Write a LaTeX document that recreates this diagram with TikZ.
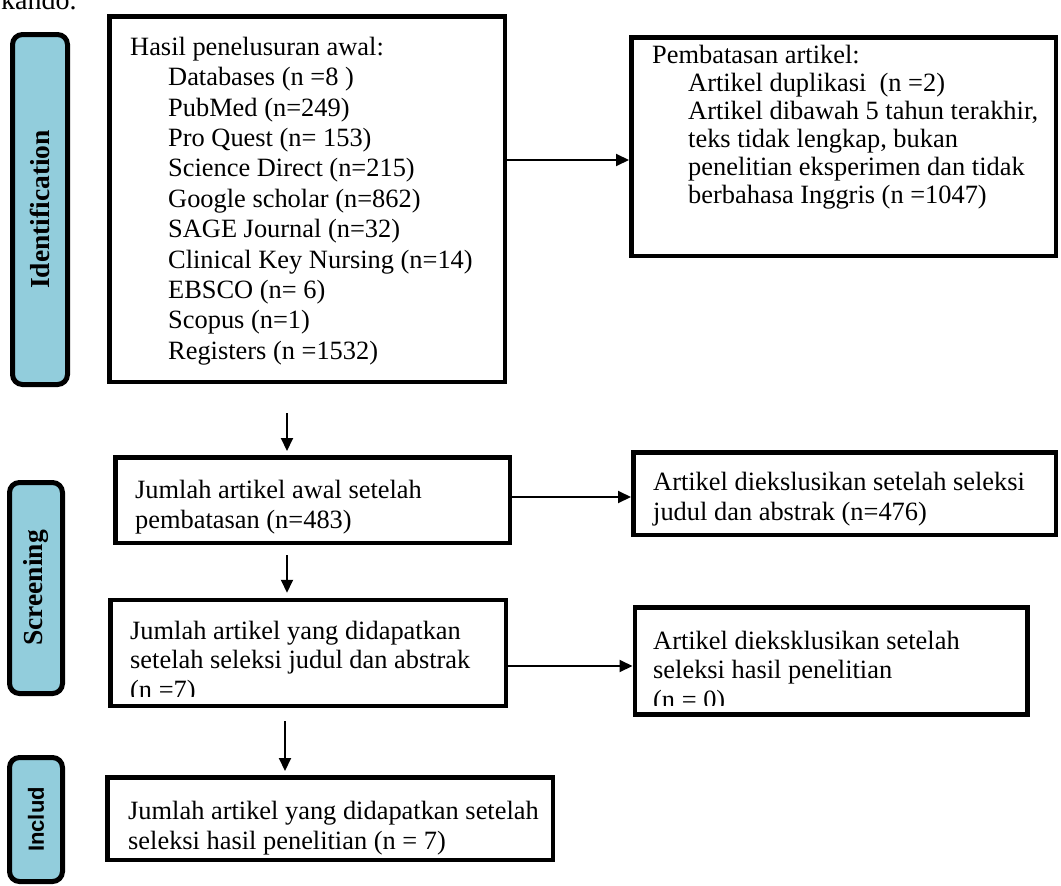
\documentclass[tikz,border=0pt]{standalone}
\usepackage{fontspec}
\setmainfont{Liberation Serif}
\newfontfamily\tabsans{Liberation Sans}
\usetikzlibrary{arrows.meta}
\definecolor{tabblue}{HTML}{92CDDC}
\begin{document}
\begin{tikzpicture}[x=1pt,y=-1pt,
  tabbox/.style={draw=black, line width=5pt, fill=tabblue, rounded corners=10pt, inner sep=0pt, rotate=90},
  flowbox/.style={draw=black, line width=4.5pt, fill=white, inner sep=0pt},
  txt/.style={anchor=north west, inner sep=0pt, align=left, font=\fontsize{26.4}{30.4}\selectfont},
  tablabel/.style={font=\bfseries\fontsize{27.5}{30}\selectfont},
  arr/.style={line width=2pt, -{Triangle[length=13pt,width=12pt]}}
]
\useasboundingbox (0,0) rectangle (1061,886);

% fragment of page text above the figure
\node[anchor=base west, inner sep=0pt, font=\fontsize{28}{32}\selectfont] (kando) at (1,9.5) {kando.};

% phase tabs
\node[tabbox, tablabel, minimum width=350pt, minimum height=55pt] (t1) at (40,209.5) {Identification};
\node[tabbox, tablabel, minimum width=211pt, minimum height=53pt] (t2) at (36,588) {Screening};
\node[tabbox, font=\tabsans\bfseries\fontsize{22}{24}\selectfont, minimum width=124pt, minimum height=53pt] (t3) at (36,819.5) {Includ};

% boxes
\node[flowbox, minimum width=395.5pt, minimum height=365.5pt] (b1) at (307,199) {};
\node[flowbox, minimum width=424.5pt, minimum height=218.5pt] (b2) at (843.5,146.5) {};
\node[flowbox, minimum width=394.5pt, minimum height=85.5pt] (b3) at (312.5,500) {};
\node[flowbox, minimum width=422.5pt, minimum height=82.5pt] (b4) at (844.5,493.5) {};
\node[flowbox, minimum width=395.5pt, minimum height=106pt] (b5) at (308,653) {};
\node[flowbox, minimum width=392.5pt, minimum height=107pt] (b6) at (831,661) {};
\node[flowbox, minimum width=445.5pt, minimum height=82.5pt] (b7) at (330,818.5) {};

% texts
\node[txt] (x1) at (130,35) {\rule{0pt}{20pt}Hasil penelusuran awal:\\
\hspace*{38pt}Databases (n =8 )\\
\hspace*{38pt}PubMed (n=249)\\
\hspace*{38pt}Pro Quest (n= 153)\\
\hspace*{38pt}Science Direct (n=215)\\
\hspace*{38pt}Google scholar (n=862)\\
\hspace*{38pt}SAGE Journal (n=32)\\
\hspace*{38pt}Clinical Key Nursing (n=14)\\
\hspace*{38pt}EBSCO (n= 6)\\
\hspace*{38pt}Scopus (n=1)\\
\hspace*{38pt}Registers (n =1532)};

\node[txt, font=\fontsize{26.4}{28}\selectfont] (x2) at (652,43) {\rule{0pt}{20pt}Pembatasan artikel:\\
\hspace*{36pt}Artikel duplikasi~ (n =2)\\
\hspace*{36pt}Artikel dibawah 5 tahun terakhir,\\
\hspace*{36pt}teks tidak lengkap, bukan\\
\hspace*{36pt}penelitian eksperimen dan tidak\\
\hspace*{36pt}berbahasa Inggris (n =1047)};

\node[txt] (x3) at (135,478) {\rule{0pt}{20pt}Jumlah artikel awal setelah\\pembatasan (n=483)};
\node[txt] (x4) at (653,470) {\rule{0pt}{20pt}Artikel diekslusikan setelah seleksi\\judul dan abstrak (n=476)};

\begin{scope}
\clip (112,602) rectangle (504,696);
\node[txt, font=\fontsize{26.4}{29.5}\selectfont] (x5) at (130,619) {\rule{0pt}{20pt}Jumlah artikel yang didapatkan\\setelah seleksi judul dan abstrak\\(n =7)};
\end{scope}
\begin{scope}
\clip (637,610) rectangle (1026,705);
\node[txt, font=\fontsize{26.4}{29.5}\selectfont] (x6) at (653,629) {\rule{0pt}{20pt}Artikel dieksklusikan setelah\\seleksi hasil penelitian\\(n = 0)};
\end{scope}

\node[txt] (x7) at (128,799) {\rule{0pt}{20pt}Jumlah artikel yang didapatkan setelah\\seleksi hasil penelitian (n = 7)};

% connectors
\coordinate (ax) at (287,0);
\coordinate (cx) at (285,0);
\draw[arr] (b1.east |- 0,160) -- (b2.west |- 0,160);
\draw[arr] (b3.east |- 0,497) -- (b4.west |- 0,497);
\draw[arr] (b5.east |- 0,666) -- (b6.west |- 0,666);
\draw[arr, shorten <=29pt, shorten >=4pt] (b1.south -| ax) -- (b3.north -| ax);
\draw[arr, shorten <=10pt, shorten >=5pt] (b3.south -| ax) -- (b5.north -| ax);
\draw[arr, shorten <=13pt, shorten >=4pt] (b5.south -| cx) -- (b7.north -| cx);
\end{tikzpicture}
\end{document}
